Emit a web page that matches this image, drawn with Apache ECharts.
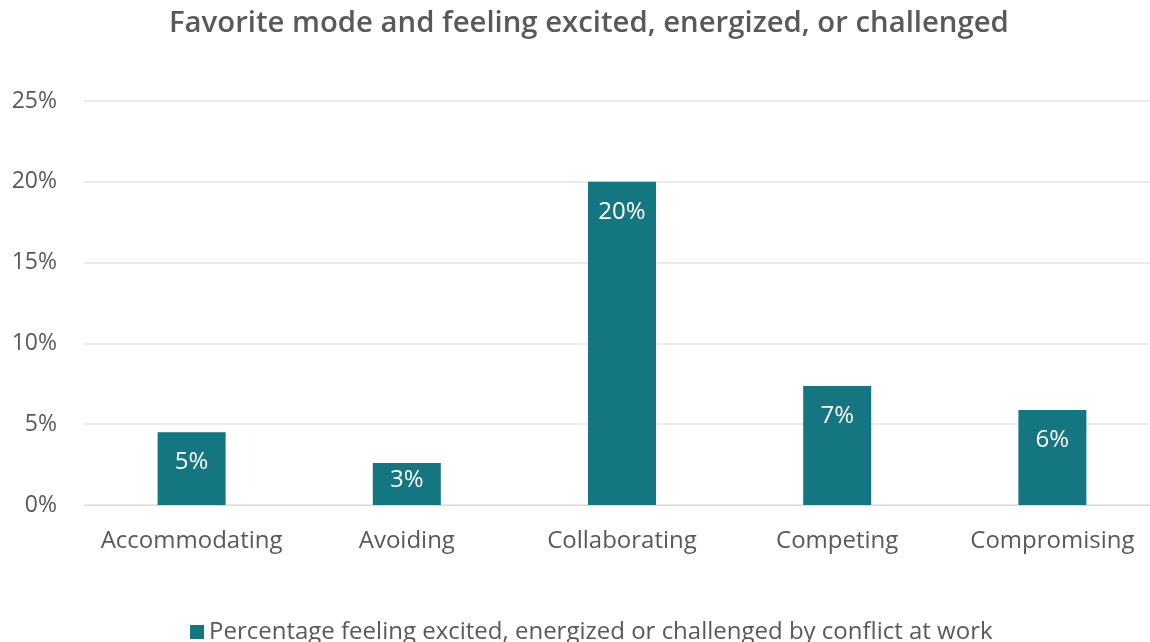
<!DOCTYPE html>
<html><head><meta charset="utf-8">
<script src="https://cdn.jsdelivr.net/npm/echarts@6/dist/echarts.min.js"></script>
<style>html,body{margin:0;padding:0;background:#fff}#c{width:1150px;height:642px}</style>
</head><body><div id="c"></div>
<script>
const categories = ['Accommodating', 'Avoiding', 'Collaborating', 'Competing', 'Compromising'];
const values = [4.5, 2.6, 20.0, 7.36, 5.88];
const yTicks = [0, 5, 10, 15, 20, 25];
const seriesName = 'Percentage feeling excited, energized or challenged by conflict at work';
const chartTitle = 'Favorite mode and feeling excited, energized, or challenged';

// short bars get their label closer to the top so it still fits inside
const barData = values.map(v => ({value: v, label: {distance: v < 4 ? 5 : 18}}));

const chart = echarts.init(document.getElementById('c'), null, {renderer: 'canvas'});
chart.setOption({
  animation: false,
  textStyle: {fontFamily: 'Open Sans'},
  title: {
    text: chartTitle, left: 164, top: 4,
    textStyle: {fontFamily: 'Open Sans', fontSize: 29.3, fontWeight: 600, color: '#595959'}
  },
  legend: {
    bottom: -7, left: 185, itemWidth: 14, itemHeight: 14, itemGap: 10,
    icon: 'rect',
    textStyle: {fontFamily: 'Open Sans', fontSize: 24, color: '#595959'},
    data: [seriesName]
  },
  grid: {left: 84, right: -10, top: 101, bottom: 137, containLabel: false, outerBoundsMode: 'none'},
  xAxis: {
    type: 'category', data: categories,
    axisLine: {show: true, lineStyle: {color: '#d9d9d9', width: 1}},
    axisTick: {show: false},
    axisLabel: {fontFamily: 'Open Sans', fontSize: 24, color: '#595959', margin: 24, interval: 0}
  },
  yAxis: {
    type: 'value', min: yTicks[0], max: yTicks[yTicks.length - 1], interval: 5,
    axisLine: {show: false}, axisTick: {show: false},
    axisLabel: {fontFamily: 'Open Sans', fontSize: 23, color: '#595959', margin: 27, formatter: v => v + '%'},
    splitLine: {lineStyle: {color: '#e3e3e3', width: 1.5}}
  },
  series: [{
    name: seriesName, type: 'bar', data: barData, barWidth: 68,
    itemStyle: {color: '#137680'},
    label: {
      show: true, position: 'insideTop', distance: 18,
      fontFamily: 'Open Sans', fontSize: 24, color: '#ffffff',
      formatter: p => Math.round(p.value) + '%'
    }
  }]
});
</script></body></html>
